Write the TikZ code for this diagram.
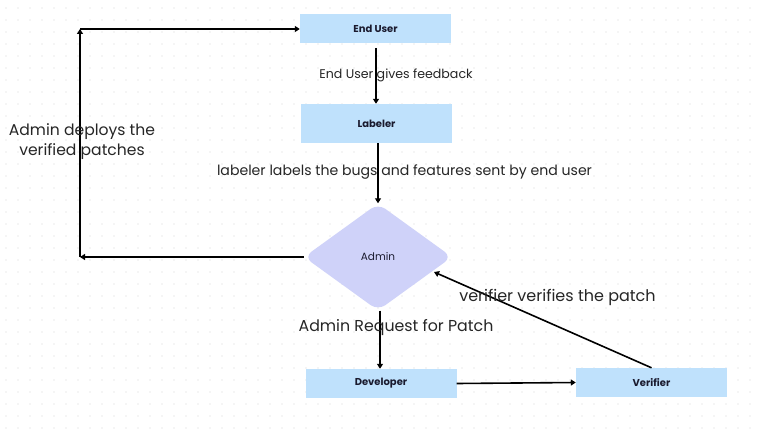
\documentclass[tikz,border=0pt]{standalone}
\usepackage{fontspec}
\setmainfont{Poppins}
\usetikzlibrary{shapes.geometric,arrows.meta}
\definecolor{boxblue}{HTML}{BFE1FC}
\definecolor{lav}{HTML}{CFD2F9}
\definecolor{dotc}{HTML}{D4D4D4}
\definecolor{lbl}{HTML}{1A1A2E}
\tikzset{
  boxnode/.style={fill=boxblue, minimum width=151pt, minimum height=29pt, inner sep=0pt, font=\fontsize{10}{12}\selectfont\bfseries, text=lbl},
  diam/.style={diamond, fill=lav, minimum width=148pt, minimum height=107pt, inner sep=0pt, rounded corners=9pt, aspect=1.4, font=\fontsize{10.5}{12}\selectfont, text=lbl},
  conn/.style={line width=1.6pt, -{Triangle[length=5pt,width=6pt]}},
  txt/.style={inner sep=0pt, text=black!85},
}
\begin{document}
\begin{tikzpicture}[x=1pt,y=-1pt]
\useasboundingbox (0,0) rectangle (759,430);
\fill[white] (0,0) rectangle (759,430);
\foreach \i in {0,...,63}{\foreach \j in {0,...,35}{\fill[dotc] (6+12*\i,8+12*\j) circle (0.7);}}
\node[boxnode] (enduser) at (375.5,28.5) {End User};
\node[boxnode, minimum height=39pt] (labeler) at (376.5,123.5) {Labeler};
\node[diam] (admin) at (378,257) {Admin};
\node[boxnode] (dev) at (381,383.5) {Developer};
\node[boxnode] (ver) at (651.5,382.5) {Verifier};
\coordinate (c1) at (80,257);
\coordinate (c2) at (80,29);
\coordinate (avin) at (434,272);
\coordinate (euout) at (376,48);
\draw[conn] (euout) -- (labeler.north -| euout);
\draw[conn] (labeler.south -| 378,0) -- (admin.north -| 378,0);
\draw[conn] (admin.south -| 380,0) -- (dev.north -| 380,0);
\draw[conn] (dev.east) -- (ver.west);
\draw[conn] (ver.north) -- (avin);
\draw[conn] (admin.west) -- (c1);
\draw[conn] (c1) -- (c2);
\draw[conn] (c2) -- (enduser.west |- c2);
\node[txt, font=\fontsize{12.6}{14}\selectfont] (t1) at (396,75) {End User gives feedback};
\node[txt, font=\fontsize{14.1}{16}\selectfont] (t2) at (404.5,172) {labeler labels the bugs and features sent by end user};
\node[txt, font=\fontsize{15.8}{18}\selectfont] (t3) at (396,328) {Admin Request for Patch};
\node[txt, font=\fontsize{16}{18}\selectfont] (t4) at (557.5,297) {verifier verifies the patch};
\node[txt, font=\fontsize{15.6}{20}\selectfont, align=center] (t5) at (82,142) {Admin deploys the\\verified patches};
\end{tikzpicture}
\end{document}
